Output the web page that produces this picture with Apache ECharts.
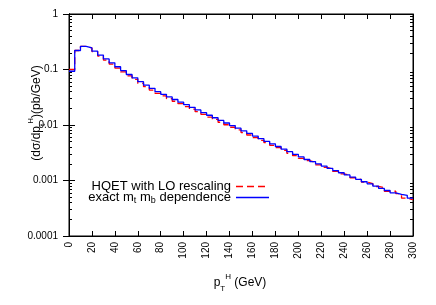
<!DOCTYPE html>
<html>
<head>
<meta charset="utf-8">
<script src="https://cdn.jsdelivr.net/npm/echarts@6/dist/echarts.min.js"></script>
<style>html,body{margin:0;padding:0;background:#fff;}#c{width:436px;height:305px;}</style>
</head>
<body>
<div id="c"></div>
<script>
// bin edges (GeV), 5 GeV bins from 0 to 300
const binEdges = [0,5,10,15,20,25,30,35,40,45,50,55,60,65,70,75,80,85,90,95,100,105,110,115,120,125,130,135,140,145,150,155,160,165,170,175,180,185,190,195,200,205,210,215,220,225,230,235,240,245,250,255,260,265,270,275,280,285,290,295,300];
// HQET with LO rescaling (pb/GeV), one value per bin
const hqetValues = [0.1,0.22,0.262,0.245,0.21,0.175,0.148,0.125,0.106,0.0905,0.0765,0.0665,0.0565,0.049,0.0425,0.0372,0.0335,0.0298,0.0268,0.0242,0.0215,0.0193,0.0174,0.0156,0.0139,0.0126,0.0112,0.0101,0.0091,0.0082,0.0073,0.0066,0.0059,0.0053,0.0048,0.0043,0.0039,0.0035,0.0031,0.0028,0.0025,0.00228,0.0021,0.00192,0.00172,0.00162,0.00146,0.00132,0.00124,0.00112,0.00104,0.00094,0.00088,0.00078,0.00074,0.00064,0.00064,0.00058,0.00048,0.00045];
// exact mt mb dependence (pb/GeV), one value per bin
const exactValues = [0.093,0.22,0.26,0.245,0.214,0.182,0.155,0.132,0.112,0.0955,0.0813,0.0708,0.0603,0.0525,0.0457,0.0398,0.0357,0.0321,0.0288,0.0258,0.0232,0.0208,0.0187,0.0167,0.015,0.0135,0.0121,0.01086,0.00975,0.00875,0.00785,0.00705,0.00632,0.00568,0.00509,0.00457,0.0041,0.00368,0.0033,0.00296,0.00266,0.00239,0.00219,0.002,0.00182,0.00166,0.00151,0.00138,0.00126,0.00115,0.00105,0.00095,0.00087,0.00079,0.00072,0.00066,0.0006,0.00056,0.00054,0.00048];
const seriesNames = ['HQET with LO rescaling', 'exact m_t m_b dependence'];
const yTickValues = [0.0001, 0.001, 0.01, 0.1, 1];
const yTickLabels = ['0.0001', '0.001', '0.01', '0.1', '1'];
const yMinorTicks = [0.0002,0.0003,0.0004,0.0005,0.0006,0.0007,0.0008,0.0009,0.002,0.003,0.004,0.005,0.006,0.007,0.008,0.009,0.02,0.03,0.04,0.05,0.06,0.07,0.08,0.09,0.2,0.3,0.4,0.5,0.6,0.7,0.8,0.9];

function stepData(vals) {
  const d = vals.map((v, i) => [binEdges[i], v]);
  d.push([binEdges[binEdges.length - 1], vals[vals.length - 1]]);
  return d;
}

const FONT = 'Liberation Sans';
const gridRect = {left: 69, right: 23, top: 14, bottom: 69};
const chart = echarts.init(document.getElementById('c'), null, {renderer: 'canvas'});
const xBase = {type: 'value', min: 0, max: 300, interval: 20, splitLine: {show: false},
  axisLine: {lineStyle: {color: '#000', width: 1}}};
const yBase = {type: 'log', logBase: 10, min: 0.0001, max: 1, splitLine: {show: false},
  axisLine: {lineStyle: {color: '#000', width: 1}}};
const supSub = {
  n: {fontFamily: FONT, fontSize: 12, lineHeight: 20, verticalAlign: 'middle'},
  s: {fontFamily: FONT, fontSize: 8, lineHeight: 8, verticalAlign: 'bottom'},
  u: {fontFamily: FONT, fontSize: 8, lineHeight: 8, verticalAlign: 'top'}
};

chart.setOption({
  animation: false,
  grid: [
    Object.assign({show: true, borderColor: '#000', borderWidth: 1, backgroundColor: 'transparent'}, gridRect),
    Object.assign({show: false}, gridRect)
  ],
  xAxis: [
    Object.assign({}, xBase, {gridIndex: 0, position: 'bottom',
      axisTick: {inside: true, length: 5, lineStyle: {color: '#000'}},
      axisLabel: {rotate: 90, margin: 6, color: '#000', fontFamily: FONT, fontSize: 10}}),
    Object.assign({}, xBase, {gridIndex: 0, position: 'top',
      axisTick: {inside: true, length: 5, lineStyle: {color: '#000'}},
      axisLabel: {show: false}}),
    Object.assign({}, xBase, {gridIndex: 1, show: false})
  ],
  yAxis: [
    Object.assign({}, yBase, {gridIndex: 0, position: 'left',
      axisTick: {inside: true, length: 6, lineStyle: {color: '#000'}, customValues: yTickValues},
      axisLabel: {margin: 11, color: '#000', fontFamily: FONT, fontSize: 10, customValues: yTickValues,
        formatter: v => { const i = yTickValues.findIndex(t => Math.abs(Math.log10(t) - Math.log10(v)) < 1e-6); return i >= 0 ? yTickLabels[i] : ''; }}}),
    Object.assign({}, yBase, {gridIndex: 0, position: 'right',
      axisTick: {inside: true, length: 6, lineStyle: {color: '#000'}, customValues: yTickValues},
      axisLabel: {show: false}}),
    Object.assign({}, yBase, {gridIndex: 1, position: 'left',
      axisTick: {inside: true, length: 3, lineStyle: {color: '#000'}, customValues: yMinorTicks},
      axisLabel: {show: false}}),
    Object.assign({}, yBase, {gridIndex: 1, position: 'right',
      axisTick: {inside: true, length: 3, lineStyle: {color: '#000'}, customValues: yMinorTicks},
      axisLabel: {show: false}})
  ],
  legend: {
    orient: 'vertical', right: 167, top: 180, align: 'right', padding: 0,
    itemWidth: 33, itemHeight: 10, itemGap: -2,
    textStyle: {color: '#000', fontFamily: FONT, fontSize: 13, padding: [0, 0, 0, 0],
      rich: {n: {fontFamily: FONT, fontSize: 13, color: '#000'},
             s: {fontFamily: FONT, fontSize: 9, color: '#000', verticalAlign: 'bottom', padding: [6, 0, 0, 0]}}},
    formatter: name => name === seriesNames[1] ? '{n|exact m}{s|t}{n| m}{s|b}{n| dependence}' : '{n|' + name + '}',
    data: [
      {name: seriesNames[0], icon: 'path://M0,5L7,5L7,6.3L0,6.3ZM11,5L18,5L18,6.3L11,6.3ZM22,5L29,5L29,6.3L22,6.3ZM33,5L33,6.3Z'},
      {name: seriesNames[1], icon: 'path://M0,5L33,5L33,6.3L0,6.3Z'}
    ]
  },
  series: [
    {name: seriesNames[0], type: 'line', step: 'end', xAxisIndex: 0, yAxisIndex: 0,
      symbol: 'none', data: stepData(hqetValues),
      itemStyle: {color: '#ff0000'},
      lineStyle: {color: '#ff0000', width: 1.3, type: [7, 4]}},
    {name: seriesNames[1], type: 'line', step: 'end', xAxisIndex: 0, yAxisIndex: 0,
      symbol: 'none', data: stepData(exactValues),
      itemStyle: {color: '#0000ff'},
      lineStyle: {color: '#0000ff', width: 1.3}}
  ],
  graphic: [
    {type: 'text', x: 37, y: 113, rotation: Math.PI / 2,
      style: {text: '{n|(dσ/dp}{s|t}{u|H}{n|)(pb/GeV)}', align: 'center', verticalAlign: 'middle',
        fill: '#000', fontFamily: FONT, fontSize: 12, rich: supSub}},
    {type: 'text', x: 240, y: 283,
      style: {text: '{n|p}{s|T}{u|H}{n| (GeV)}', align: 'center', verticalAlign: 'middle',
        fill: '#000', fontFamily: FONT, fontSize: 12, rich: supSub}}
  ]
});
</script>
</body>
</html>
